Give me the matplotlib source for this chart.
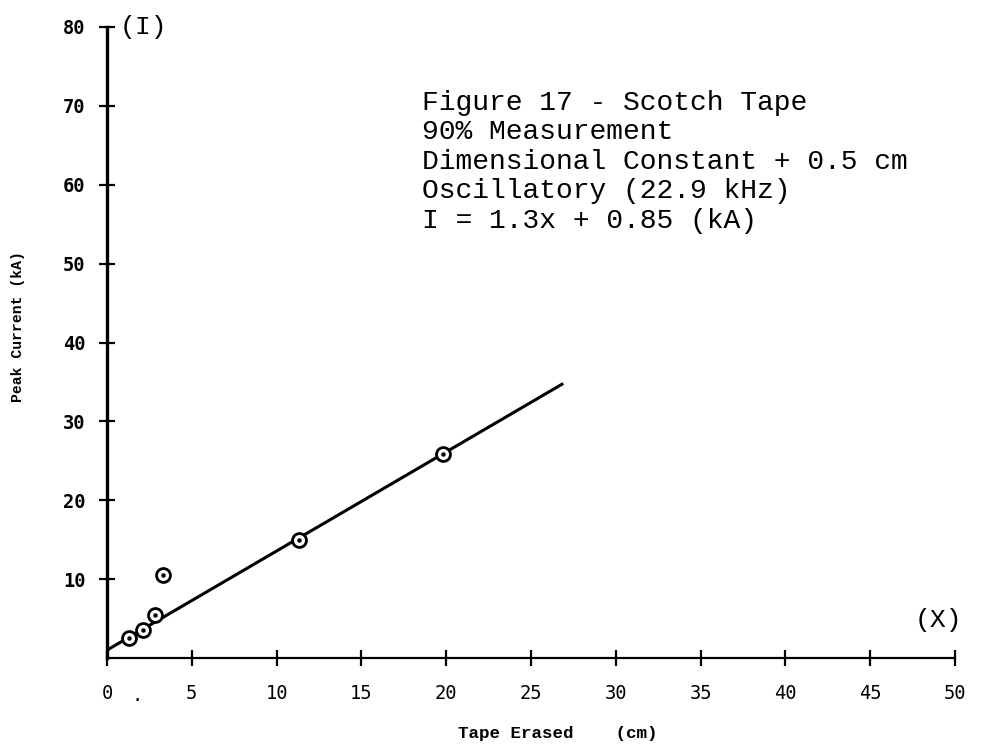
import matplotlib
matplotlib.use("Agg")
import matplotlib.pyplot as plt

# Data
tape_erased = [1.3, 2.15, 2.85, 3.3, 11.35, 19.8]       # cm
peak_current = [2.5, 3.5, 5.4, 10.5, 14.9, 25.9]        # kA
fit_x = [0.0, 26.9]
fit_y = [1.0, 34.8]

x_ticks = [0, 5, 10, 15, 20, 25, 30, 35, 40, 45, 50]
y_ticks = [10, 20, 30, 40, 50, 60, 70, 80]

note_lines = [
    "Figure 17 - Scotch Tape",
    "90% Measurement",
    "Dimensional Constant + 0.5 cm",
    "Oscillatory (22.9 kHz)",
    "I = 1.3x + 0.85 (kA)",
]

fig = plt.figure(figsize=(9.87, 7.44), dpi=100)
ax = fig.add_axes([107 / 987, (744 - 658) / 744, 848 / 987, 631 / 744])
ax.set_xlim(0, 50)
ax.set_ylim(0, 80)

for s in ("top", "right"):
    ax.spines[s].set_visible(False)
ax.spines["left"].set_linewidth(2.4)
ax.spines["bottom"].set_linewidth(1.6)

ax.set_xticks(x_ticks)
ax.set_yticks(y_ticks)
ax.tick_params(axis="both", direction="inout", length=12, width=1.6, colors="black")
ax.tick_params(axis="y", pad=9.5)
ax.tick_params(axis="x", pad=12.5)
for lab in ax.get_yticklabels():
    lab.set_fontfamily("DejaVu Sans Mono")
    lab.set_fontweight("bold")
    lab.set_fontsize(13.5)
for lab in ax.get_xticklabels():
    lab.set_fontfamily("DejaVu Sans Mono")
    lab.set_fontsize(13.5)

# fit line
ax.plot(fit_x, fit_y, color="black", lw=2.2, solid_capstyle="butt", clip_on=False)
# data points: circle with a dot
ax.plot(tape_erased, peak_current, ls="none", marker="o", ms=10, mfc="white",
        mec="black", mew=2.0, zorder=3, clip_on=False)
ax.plot(tape_erased, peak_current, ls="none", marker="o", ms=2.2, color="black",
        zorder=4, clip_on=False)

ax.set_ylabel("Peak Current (kA)", family="Liberation Mono", fontweight="bold", fontsize=10.6)
ax.yaxis.set_label_coords(-0.105, 0.526)
ax.yaxis.label.set_va("center")
ax.set_xlabel("Tape Erased    (cm)", family="Liberation Mono", fontweight="bold", fontsize=12.6)
ax.xaxis.set_label_coords(0.531, -0.119)
ax.xaxis.label.set_va("center")

ax.annotate("(I)", xy=(0, 80), xytext=(9, 0), textcoords="offset points",
            ha="left", va="center", family="Liberation Mono", fontsize=19,
            annotation_clip=False)
ax.text(49, 4.8, "(X)", ha="center", va="center", family="Liberation Mono",
        fontsize=19, clip_on=False)
ax.text(1.8, -4.7, ".", ha="center", va="center", family="DejaVu Sans Mono",
        fontsize=13.5, clip_on=False)

fig.text(422 / 987, 1 - 90 / 744, "\n".join(note_lines), ha="left", va="top",
         family="Liberation Mono", fontsize=20.2, linespacing=1.17)

fig.savefig("out.png", dpi=100, facecolor="white")
